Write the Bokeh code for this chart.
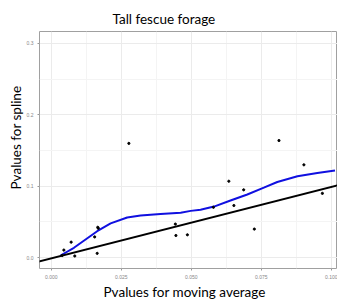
from bokeh.plotting import figure
from bokeh.models import Range1d, FixedTicker, NumeralTickFormatter, Slope, Title
from bokeh.embed import file_html
from bokeh.resources import INLINE

# data
ma_p = [0.0039, 0.0045, 0.0071, 0.0084, 0.0155, 0.0164, 0.0166, 0.0168, 0.0277,
        0.0443, 0.0445, 0.0486, 0.0579, 0.0634, 0.0652, 0.0687, 0.0725, 0.0813,
        0.0902, 0.0968]
spline_p = [0.003, 0.0106, 0.0217, 0.0023, 0.029, 0.006, 0.0425, 0.041, 0.160,
            0.047, 0.031, 0.032, 0.0705, 0.107, 0.073, 0.095, 0.040, 0.164,
            0.130, 0.090]

smooth_x = [0.0033, 0.0081, 0.0164, 0.0212, 0.0271, 0.0319, 0.039, 0.0462, 0.0498,
            0.0533, 0.0581, 0.064, 0.070, 0.0759, 0.0807, 0.0879, 0.095, 0.1013]
smooth_y = [0.003, 0.0138, 0.037, 0.048, 0.0563, 0.059, 0.061, 0.063, 0.0655,
            0.067, 0.0715, 0.080, 0.0885, 0.098, 0.106, 0.114, 0.1185, 0.122]

x_ticks = [0.0, 0.025, 0.05, 0.075, 0.1]
x_minor = [0.0125, 0.0375, 0.0625, 0.0875]
y_ticks = [0.0, 0.1, 0.2, 0.3]
y_minor = [0.05, 0.15, 0.25]

title_text = "Tall fescue forage"
x_label = "Pvalues for moving average"
y_label = "Pvalues for spline"

X0, X1 = -0.0042, 0.1022
Y0, Y1 = -0.0152, 0.3167

p = figure(width=337, height=299, output_backend="svg", toolbar_location=None,
           x_range=Range1d(X0, X1), y_range=Range1d(Y0, Y1),
           min_border_left=39, min_border_top=31, min_border_right=0, min_border_bottom=28)
p.background_fill_color = "white"
p.border_fill_color = "white"
p.outline_line_color = "#a0a0a0"
p.outline_line_width = 1

p.title.text = title_text
p.title.align = "left"
p.title.offset = 73
p.title.text_font = "Lato"
p.title.text_font_size = "13.5px"
p.title.text_font_style = "normal"
p.title.text_color = "black"

for ax, ticks, minor, fmt in ((p.xaxis[0], x_ticks, x_minor, "0.000"),
                               (p.yaxis[0], y_ticks, y_minor, "0.0")):
    ax.ticker = FixedTicker(ticks=ticks, minor_ticks=minor)
    ax.formatter = NumeralTickFormatter(format=fmt)
    ax.axis_line_color = None
    ax.major_tick_line_color = "#999999"
    ax.major_tick_in = 0
    ax.major_tick_out = 2
    ax.minor_tick_line_color = None
    ax.major_label_text_font_size = "5px"
    ax.major_label_text_color = "#888888"
    ax.major_label_standoff = 2

p.add_layout(Title(text=x_label, align="left", offset=64, text_font="Lato",
                   text_font_size="13.5px", text_font_style="normal",
                   text_color="black", standoff=0), "below")
p.add_layout(Title(text=y_label, align="left", offset=79, text_font="Lato",
                   text_font_size="13.5px", text_font_style="normal",
                   text_color="black", standoff=0), "left")

p.xgrid.grid_line_color = "#ebebeb"
p.ygrid.grid_line_color = "#ebebeb"
p.xgrid.minor_grid_line_color = "#f4f4f4"
p.ygrid.minor_grid_line_color = "#f4f4f4"

p.add_layout(Slope(gradient=1.0, y_intercept=-0.001, line_color="black", line_width=2))
p.line(smooth_x, smooth_y, line_color="#1010e0", line_width=2)
p.scatter(ma_p, spline_p, size=2.2, color="black")

open("out.html", "w").write(file_html(p, INLINE))
